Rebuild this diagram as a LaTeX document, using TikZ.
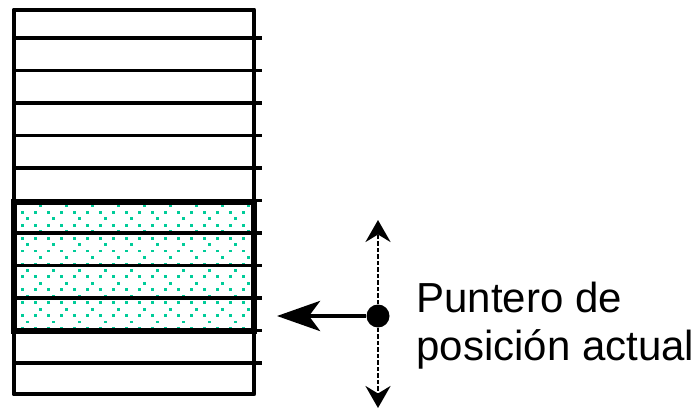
\documentclass[tikz,border=0pt]{standalone}
\usepackage{fontspec}
\setmainfont{Liberation Sans}
\usepackage{tikz}
\usetikzlibrary{arrows.meta}

\definecolor{dotgreen}{RGB}{0,204,153}

\begin{document}
\begin{tikzpicture}[x=0.02cm,y=-0.02cm]
	\useasboundingbox (0,0) rectangle (700,409);

	% dots of the marked records
	\begin{scope}[every path/.style={fill=dotgreen}]
		\foreach \j in {0,...,19} {
			\pgfmathsetmacro{\yy}{204.5+6.45*\j}
			\ifodd\j\relax
				\foreach \i in {0,...,17} \fill (21+13*\i,\yy) rectangle ++(2.8,2.8);
			\else
				\pgfmathsetmacro{\xo}{mod(\j,4)==0 ? 39 : 26}
				\foreach \i in {0,...,8} \fill (\xo+26*\i,\yy) rectangle ++(2.8,2.8);
			\fi
		}
	\end{scope}

	% records of the file
	\foreach \y in {38,70.5,103,135.5,168,200.5,233,265.5,298,330.5}
		\draw[line width=1.9pt] (14,\y) -- (262,\y);
	\draw[line width=1.9pt] (12,363) -- (262,363);
	\draw[line width=2.8pt, line join=round] (14,10) rectangle (254,394);
	\draw[line width=3pt] (14,202) rectangle (254,331);

	\begin{scope}[every node/.style={circle,fill=black,inner sep=0pt,minimum size=0.46cm}]
		\node (dot) at (378,316) {};
	\end{scope}
	\coordinate (tip) at (277,316);
	\coordinate (up) at (378,220);
	\coordinate (down) at (378,408);

	\begin{scope}[every edge/.style={draw=black}]
		\path (dot) edge[line width=2.6pt,
		                 -{Stealth[length=0.86cm,width=0.6cm,inset=0.22cm]}] (tip);
		\path (dot) edge[line width=1.7pt, dash pattern=on 2.4pt off 1.3pt,
		                 -{Stealth[length=0.44cm,width=0.5cm,inset=0.15cm]}] (up);
		\path (dot) edge[line width=1.7pt, dash pattern=on 2.4pt off 1.3pt,
		                 -{Stealth[length=0.44cm,width=0.5cm,inset=0.15cm]}] (down);
	\end{scope}

	\node[anchor=north west, inner sep=0pt, align=left,
	      font=\fontsize{23.9}{27.3}\selectfont] (label) at (416,281.5)
		{Puntero de\\posición actual};
\end{tikzpicture}
\end{document}
